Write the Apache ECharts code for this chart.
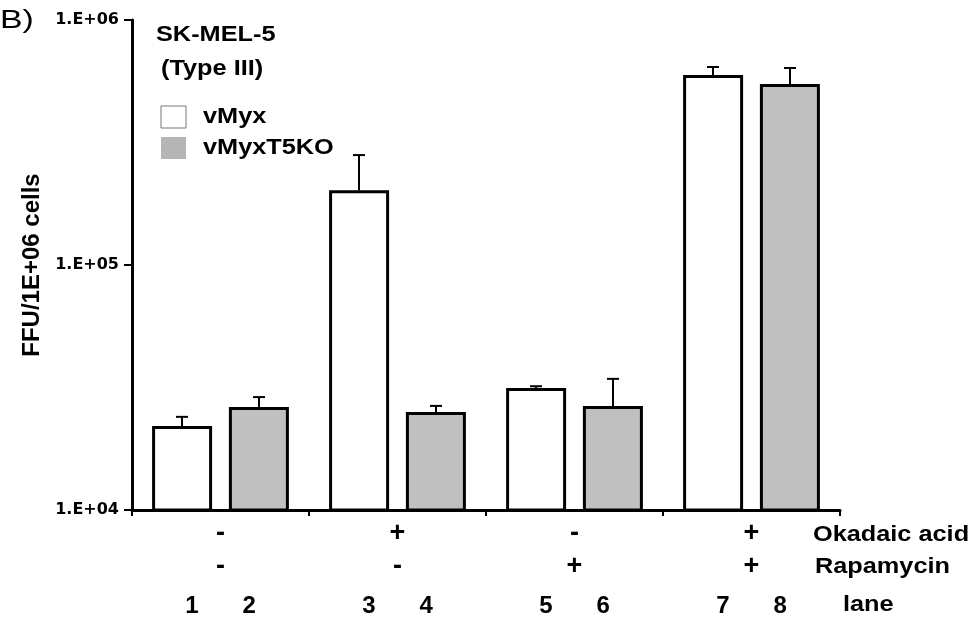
<!DOCTYPE html>
<html><head><meta charset="utf-8">
<script src="https://cdn.jsdelivr.net/npm/echarts@6/dist/echarts.min.js"></script>
<style>html,body{margin:0;padding:0;background:#fff}#c{width:974px;height:620px}</style>
</head><body><div id="c"></div>
<script>
var groups = ['g1','g2','g3','g4'];
var okadaic = ['-','+','-','+'];
var rapamycin = ['-','-','+','+'];
var lanesA = ['1','3','5','7'];
var lanesB = ['2','4','6','8'];
var vMyx = [22000, 202000, 31500, 597000];
var vMyxErr = [24000, 281000, 32000, 643000];
var vMyxT5KO = [26300, 25100, 26600, 548000];
var vMyxT5KOErr = [28900, 26600, 34300, 637000];
var yTicks = ['1.E+04','1.E+05','1.E+06'];

var F = 'Liberation Sans, Arial, sans-serif';
var chart = echarts.init(document.getElementById('c'));

function errSeries(vals, idx) {
  return {
    type: 'custom',
    z: 1,
    data: vals.map(function (v, i) { return [i, v]; }),
    renderItem: function (params, api) {
      var ci = api.value(0);
      var top = api.coord([ci, api.value(1)]);
      var base = api.coord([ci, idx === 0 ? vMyx[ci] : vMyxT5KO[ci]]);
      var off = idx === 0 ? -38.5 : 38.5;
      var x = top[0] + off;
      return {
        type: 'group',
        children: [
          {type: 'line', shape: {x1: x, y1: top[1], x2: x, y2: base[1]}, style: {stroke: '#000', lineWidth: 2}},
          {type: 'line', shape: {x1: x - 6, y1: top[1], x2: x + 6, y2: top[1]}, style: {stroke: '#000', lineWidth: 2}}
        ]
      };
    }
  };
}

function txt(s, x, y, size, bold, sx) {
  return {type: 'text', x: x, y: y, scaleX: sx || 1.15,
    style: {text: s, fontFamily: F, fontWeight: bold ? 'bold' : 'normal', fontSize: size, fill: '#000', verticalAlign: 'middle', align: 'left'}};
}

chart.setOption({
  animation: false,
  grid: {left: 132, right: 134, top: 20, bottom: 110},
  xAxis: {
    type: 'category',
    data: groups,
    axisLine: {lineStyle: {color: '#000', width: 3}},
    axisTick: {show: true, length: 6, lineStyle: {color: '#000', width: 2}},
    axisLabel: {
      margin: 7,
      formatter: function (v, i) {
        return '{s|' + okadaic[i] + '}\n{s|' + rapamycin[i] + '}\n{n|' + lanesA[i] + '}{g|}{n|' + lanesB[i] + '}';
      },
      rich: {
        s: {fontFamily: F, fontWeight: 'bold', fontSize: 27, color: '#000', lineHeight: 33},
        n: {fontFamily: F, fontWeight: 'bold', fontSize: 24, color: '#000', lineHeight: 40, padding: [6, 0, 0, 0]},
        g: {width: 44, lineHeight: 40}
      }
    }
  },
  yAxis: {
    type: 'log',
    logBase: 10,
    min: 10000,
    max: 1000000,
    name: 'FFU/1E+06 cells',
    nameLocation: 'middle',
    nameGap: 88,
    nameTextStyle: {fontFamily: F, fontWeight: 'bold', fontSize: 24, color: '#000'},
    splitLine: {show: false},
    axisLine: {show: true, lineStyle: {color: '#000', width: 3}},
    axisTick: {show: true, length: 8, lineStyle: {color: '#000', width: 2}},
    axisLabel: {
      margin: 13,
      fontFamily: 'DejaVu Sans', fontWeight: 'bold', fontSize: 16, color: '#000',
      formatter: function (v) {
        var e = Math.round(Math.log10(v));
        return yTicks[e - 4];
      }
    }
  },
  series: [
    {type: 'bar', name: 'vMyx', data: vMyx, barWidth: 60, barGap: '28%', z: 2,
     itemStyle: {color: '#fff', borderColor: '#000', borderWidth: 3}},
    {type: 'bar', name: 'vMyxT5KO', data: vMyxT5KO, barWidth: 60, barGap: '28%', z: 2,
     itemStyle: {color: '#c0c0c0', borderColor: '#000', borderWidth: 3}},
    errSeries(vMyxErr, 0),
    errSeries(vMyxT5KOErr, 1)
  ],
  graphic: [
    txt('B)', 0, 21, 26, false, 1.3),
    txt('SK-MEL-5', 156, 35, 22, true),
    txt('(Type III)', 161, 69, 22, true),
    {type: 'rect', shape: {x: 161, y: 106, width: 25, height: 22}, style: {fill: '#fff', stroke: '#777', lineWidth: 1}},
    txt('vMyx', 203, 117, 22, true),
    {type: 'rect', shape: {x: 161, y: 137, width: 25, height: 22}, style: {fill: '#b5b5b5'}},
    txt('vMyxT5KO', 203, 148, 22, true),
    txt('Okadaic acid', 813, 535, 22, true),
    txt('Rapamycin', 815, 567, 22, true),
    txt('lane', 843, 605, 22, true)
  ]
});
</script></body></html>
